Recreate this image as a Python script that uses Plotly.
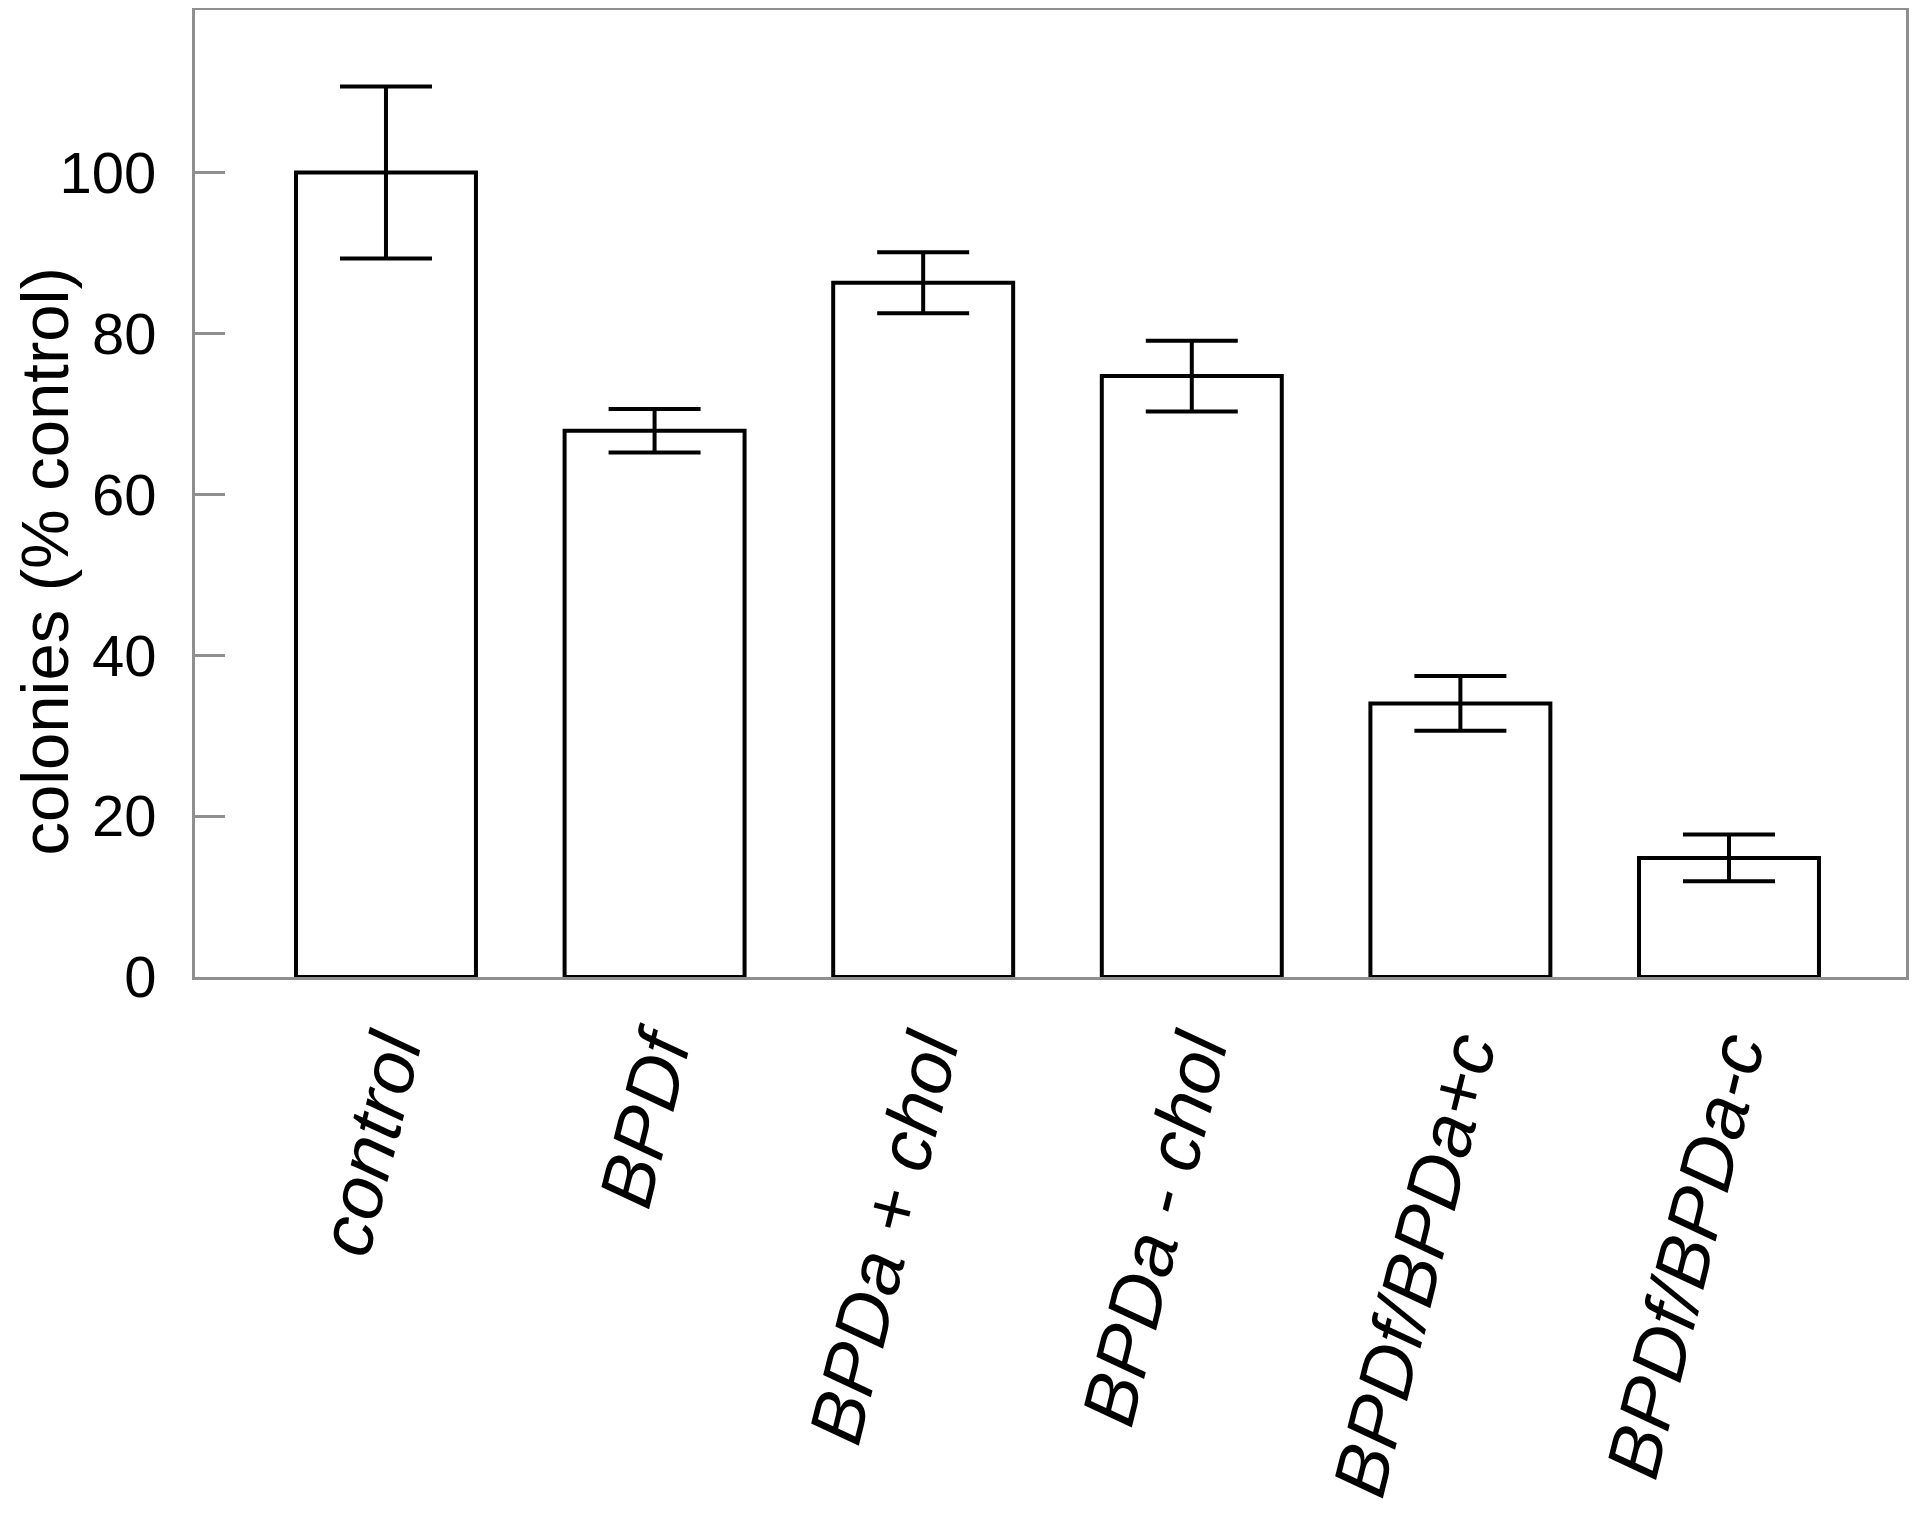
import plotly.graph_objects as go

categories = ["control", "BPDf", "BPDa + chol", "BPDa - chol", "BPDf/BPDa+c", "BPDf/BPDa-c"]
values = [100.0, 67.9, 86.3, 74.7, 34.0, 14.8]
errors = [10.7, 2.7, 3.8, 4.4, 3.4, 2.9]
y_ticks = [0, 20, 40, 60, 80, 100]
y_title = "colonies (% control)"

fig = go.Figure()
fig.add_trace(go.Bar(
    x=list(range(len(categories))),
    y=values,
    width=0.67,
    marker=dict(color="white", line=dict(color="black", width=4)),
    error_y=dict(type="data", array=errors, visible=True, color="black", thickness=4, width=46),
    showlegend=False,
))

axis_gray = "#8f8f8f"
fig.update_layout(
    width=1920, height=1522,
    margin=dict(l=187, r=22, t=2, b=553, autoexpand=False),
    paper_bgcolor="white", plot_bgcolor="white",
    font=dict(family="Liberation Sans, Arial, sans-serif", color="black"),
    xaxis=dict(
        range=[-0.711, 5.659],
        tickmode="array", tickvals=list(range(len(categories))),
        ticktext=["<i>%s</i>" % c for c in categories],
        tickangle=-76, tickfont=dict(size=75),
        showline=True, linecolor=axis_gray, linewidth=3, mirror=True,
        ticks="", showgrid=False, zeroline=False, automargin=False,
    ),
    yaxis=dict(
        range=[0, 120.2],
        tickmode="array", tickvals=y_ticks,
        tickfont=dict(size=58),
        ticks="inside", ticklen=30, tickcolor=axis_gray, tickwidth=2.5,
        showline=True, linecolor=axis_gray, linewidth=3, mirror=True,
        showgrid=False, zeroline=False, automargin=False,
        ticklabelstandoff=24,
    ),
    annotations=[dict(
        text=y_title, textangle=-90, font=dict(size=67),
        xref="paper", yref="paper", x=-0.088, y=0.43,
        xanchor="center", yanchor="middle", showarrow=False, borderpad=0,
    )],
)
fig.write_html("out.html")
